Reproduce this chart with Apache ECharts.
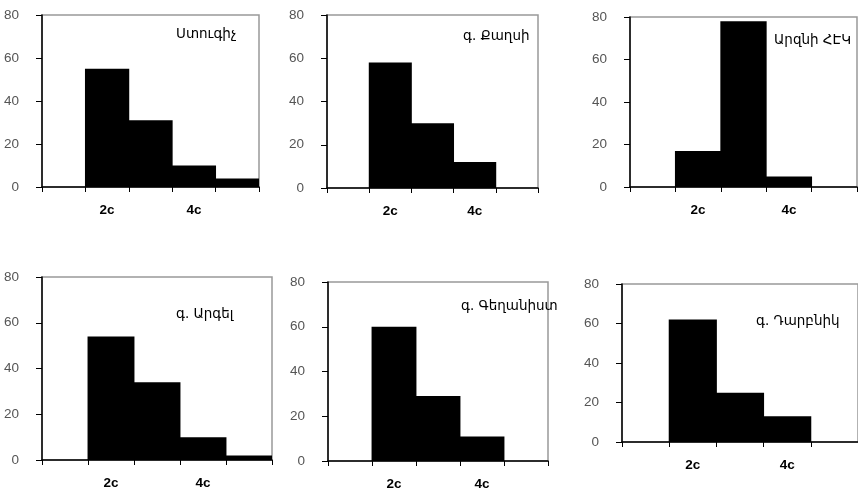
<!DOCTYPE html>
<html>
<head>
<meta charset="utf-8">
<script src="https://cdn.jsdelivr.net/npm/echarts@6/dist/echarts.min.js"></script>
<style>
html,body{margin:0;padding:0;background:#fff;}
#chart{width:858px;height:493px;}
</style>
</head>
<body>
<div id="chart"></div>
<script>
// ---- data ----
const categories = ['1c', '2c', '3c', '4c', '5c'];
const yTickValues = [0, 20, 40, 60, 80];
const panelNames = ['Ստուգիչ', 'գ. Քաղսի', 'Արզնի ՀԷԿ', 'գ. Արգել', 'գ. Գեղանիստ', 'գ. Դարբնիկ'];
const stugich   = [0, 55, 31, 10, 4];
const qaghsi    = [0, 58, 30, 12, 0];
const arzniHek  = [0, 17, 78, 5, 0];
const argel     = [0, 54, 34, 10, 2];
const geghanist = [0, 60, 29, 11, 0];
const darbnik   = [0, 62, 25, 13, 0];
const panelData = [stugich, qaghsi, arzniHek, argel, geghanist, darbnik];

// ---- layout (pixels) ----
const grids = [
  {left: 42,  top: 15,  width: 217, height: 172},
  {left: 327, top: 15,  width: 211, height: 173},
  {left: 630, top: 17,  width: 227, height: 170},
  {left: 42,  top: 277, width: 230, height: 183},
  {left: 328, top: 282, width: 220, height: 179},
  {left: 622, top: 284, width: 240, height: 158}
];
const titlePos = [
  {left: 176, top: 27},
  {left: 463, top: 29},
  {left: 774, top: 33},
  {left: 176, top: 307},
  {left: 461, top: 299},
  {left: 756, top: 314}
];

const chart = echarts.init(document.getElementById('chart'), null, {renderer: 'canvas'});
const yMin = yTickValues[0], yMax = yTickValues[yTickValues.length - 1];
const yStep = yTickValues[1] - yTickValues[0];

const option = {
  animation: false,
  backgroundColor: '#ffffff',
  title: panelNames.map((n, i) => ({
    text: n, left: titlePos[i].left, top: titlePos[i].top, padding: 0,
    textStyle: {fontFamily: 'DejaVu Sans, Noto Sans, sans-serif', fontSize: 13.5, fontWeight: 'normal', color: '#000'}
  })),
  grid: grids.map(g => Object.assign({show: true, borderColor: '#999', borderWidth: 1.5, backgroundColor: 'transparent'}, g)),
  xAxis: grids.map((g, i) => ({
    type: 'category', gridIndex: i, data: categories, boundaryGap: true,
    axisLine: {show: true, lineStyle: {color: '#000', width: 1.5}},
    axisTick: {show: true, interval: 0, length: 5, lineStyle: {color: '#000', width: 1}},
    axisLabel: {
      interval: (idx) => idx % 2 === 1, margin: 16,
      fontFamily: 'Liberation Sans, Arial, sans-serif', fontSize: 13.5, fontWeight: 'bold', color: '#000'
    },
    splitLine: {show: false}
  })),
  yAxis: grids.map((g, i) => ({
    type: 'value', gridIndex: i, min: yMin, max: yMax, interval: yStep,
    axisLine: {show: true, lineStyle: {color: '#000', width: 1.5}},
    axisTick: {show: true, length: 6, lineStyle: {color: '#000', width: 1}},
    axisLabel: {margin: 23, fontFamily: 'Liberation Sans, Arial, sans-serif', fontSize: 13.5, color: '#555'},
    splitLine: {show: false}
  })),
  series: panelData.map((d, i) => ({
    type: 'bar', xAxisIndex: i, yAxisIndex: i, data: d,
    barWidth: '102%', itemStyle: {color: '#000'}, silent: true
  }))
};
chart.setOption(option);
</script>
</body>
</html>
